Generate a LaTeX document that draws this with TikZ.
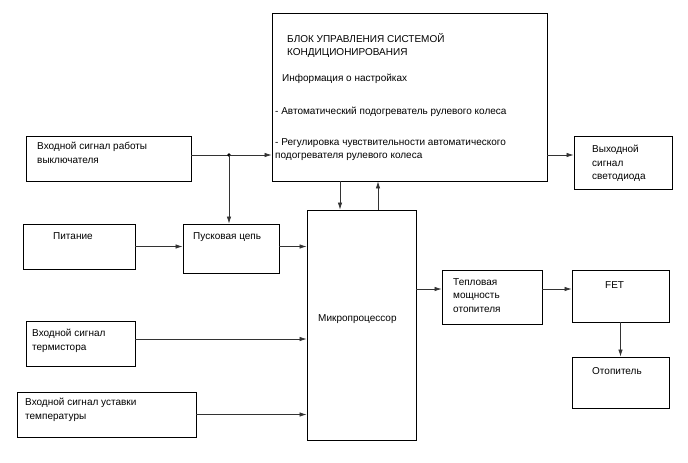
\documentclass[tikz,border=0pt]{standalone}
\usepackage{fontspec}
\setmainfont{Liberation Sans}
\usetikzlibrary{arrows.meta}

\begin{document}
\begin{tikzpicture}[x=1pt, y=-1pt,
    box/.style={draw, line width=0.9pt, inner sep=0pt},
    txt/.style={anchor=north west, inner sep=0pt, align=left,
      font=\fontsize{10}{13.5}\selectfont},
    arr/.style={line width=0.7pt, draw=black!80, -{Latex[length=7pt, width=4.5pt]}}]
      \useasboundingbox (0,0) rectangle (688,463);

      % boxes
      \node[box, minimum width=275pt, minimum height=168pt] (ctl) at (409.5,97) {};
      \node[box, minimum width=165pt, minimum height=45pt] (sw) at (108.5,158.5) {};
      \node[box, minimum width=112pt, minimum height=45pt] (pwr) at (79,246.5) {};
      \node[box, minimum width=96pt, minimum height=49pt] (start) at (231,248.5) {};
      \node[box, minimum width=109pt, minimum height=230pt] (mcu) at (361.5,325) {};
      \node[box, minimum width=109pt, minimum height=45pt] (therm) at (80.5,343.5) {};
      \node[box, minimum width=179pt, minimum height=45pt] (setp) at (106.5,414.5) {};
      \node[box, minimum width=100pt, minimum height=54pt] (heat) at (492,297) {};
      \node[box, minimum width=97pt, minimum height=52pt] (fet) at (620.5,296) {};
      \node[box, minimum width=97pt, minimum height=51pt] (heater) at (620.5,382.5) {};
      \node[box, minimum width=98pt, minimum height=53pt] (led) at (623,162.5) {};

      % texts
      \node[txt] (ctl1) at (287,33) {БЛОК УПРАВЛЕНИЯ СИСТЕМОЙ\\КОНДИЦИОНИРОВАНИЯ};
      \node[txt] (ctl2) at (282,74) {Информация о настройках};
      \node[txt] (ctl3) at (275,107) {- Автоматический подогреватель рулевого колеса};
      \node[txt] (ctl4) at (275,138) {- Регулировка чувствительности автоматического\\подогревателя рулевого колеса};
      \node[txt] (swt) at (37,142) {Входной сигнал работы\\выключателя};
      \node[txt] (pwrt) at (53,232) {Питание};
      \node[txt] (startt) at (193,232) {Пусковая цепь};
      \node[txt] (mcut) at (318,314) {Микропроцессор};
      \node[txt] (heatt) at (453,278) {Тепловая\\мощность\\отопителя};
      \node[txt] (ledt) at (592,145) {Выходной\\сигнал\\светодиода};
      \node[txt] (fett) at (605,281) {FET};
      \node[txt] (heatert) at (592,367) {Отопитель};
      \node[txt] (thermt) at (32,329) {Входной сигнал\\термистора};
      \node[txt] (setpt) at (25,398) {Входной сигнал уставки\\температуры};

      % connectors
      \coordinate (j) at (229,155);
      \draw[line width=0.7pt, draw=black!80] (sw.east |- j) -- (j);
      \fill (j) circle (1.8pt);
      \draw[arr] (j) -- (ctl.west |- j);
      \draw[arr] (j) -- (j |- start.north);
      \draw[arr] (pwr.east) -- (start.west |- pwr.east);
      \draw[arr] ([yshift=2pt]start.east) -- ([yshift=2pt]start.east -| mcu.west);
      \draw[arr] ([yshift=4.5pt]therm.east) -- ([yshift=4.5pt]therm.east -| mcu.west);
      \draw[arr] (setp.east) -- (setp.east -| mcu.west);
      \draw[arr] ([xshift=-69.5pt]ctl.south) -- ([xshift=-69.5pt]ctl.south |- mcu.north);
      \draw[arr] ([xshift=-31.5pt]ctl.south |- mcu.north) -- ([xshift=-31.5pt]ctl.south);
      \draw[arr] ([yshift=-58pt]ctl.east) -- ([yshift=-58pt]ctl.east -| led.west);
      \draw[arr] ([yshift=8pt]heat.west -| mcu.east) -- ([yshift=8pt]heat.west);
      \draw[arr] ([yshift=8pt]heat.east) -- ([yshift=8pt]heat.east -| fet.west);
      \draw[arr] (fet.south) -- (heater.north);
\end{tikzpicture}
\end{document}
